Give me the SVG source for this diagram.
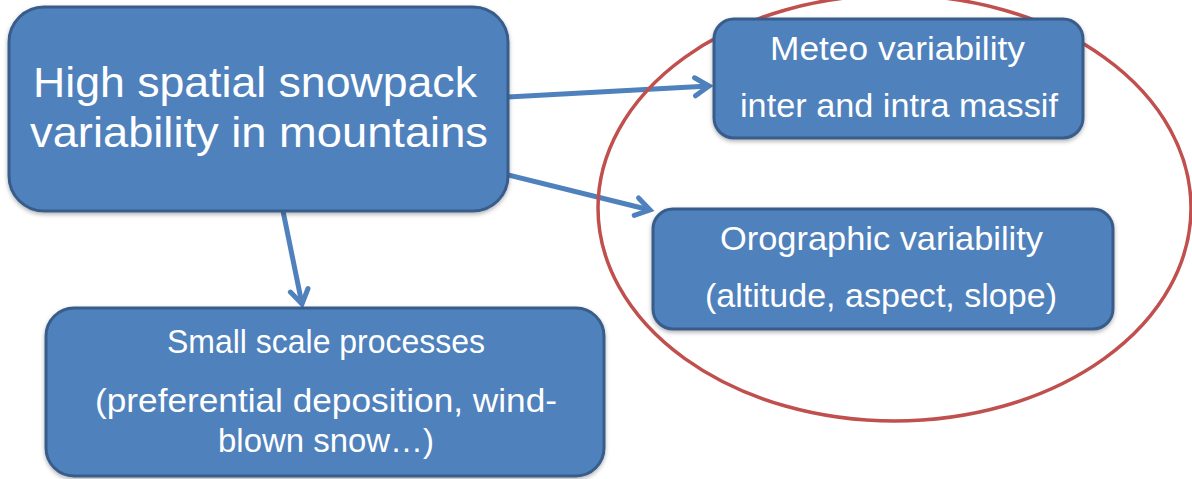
<svg xmlns="http://www.w3.org/2000/svg" width="1192" height="479" viewBox="0 0 1192 479">
  <style>
    .box { fill: #4f81bd; stroke: #385d8a; stroke-width: 3; filter: url(#sh); }
    .t { fill: #ffffff; font-family: "Liberation Sans", Arial, sans-serif; text-anchor: middle; }
    .big { font-size: 43px; }
    .sm { font-size: 34px; }
    .conn { stroke: #4f81bd; stroke-width: 5; fill: none; marker-end: url(#arr); }
  </style>
  <defs>
    <filter id="sh" x="-10%" y="-10%" width="120%" height="130%">
      <feDropShadow dx="0" dy="2" stdDeviation="2" flood-color="#000" flood-opacity="0.3"/>
    </filter>
    <marker id="arr" viewBox="0 0 24 24" markerWidth="24" markerHeight="24" refX="19" refY="12" orient="auto" markerUnits="userSpaceOnUse">
      <path d="M5,3 L19,12 L5,21" fill="none" stroke="#4f81bd" stroke-width="5" stroke-linecap="round" stroke-linejoin="miter"/>
    </marker>
  </defs>
  <rect width="1192" height="479" fill="#ffffff"/>

  <g id="connectors">
    <line class="conn" x1="508" y1="97" x2="709" y2="86"/>
    <line class="conn" x1="508" y1="175" x2="650" y2="210"/>
    <line class="conn" x1="283" y1="211" x2="302" y2="304"/>
  </g>

  <ellipse id="highlight" cx="894.5" cy="208" rx="296.5" ry="213" fill="none" stroke="#c0504d" stroke-width="3.5"/>

  <g id="main">
    <rect class="box" x="9" y="7" width="499" height="204" rx="35" ry="35"/>
    <text class="t big" x="255" y="97" textLength="444" lengthAdjust="spacingAndGlyphs">High spatial snowpack</text>
    <text class="t big" x="259" y="147" textLength="458" lengthAdjust="spacingAndGlyphs">variability in mountains</text>
  </g>

  <g id="meteo">
    <rect class="box" x="714" y="19" width="369" height="119" rx="20" ry="20"/>
    <text class="t sm" x="897.5" y="60" textLength="255" lengthAdjust="spacingAndGlyphs">Meteo variability</text>
    <text class="t sm" x="899" y="117" textLength="318" lengthAdjust="spacingAndGlyphs">inter and intra massif</text>
  </g>

  <g id="orographic">
    <rect class="box" x="653" y="209" width="460" height="120" rx="20" ry="20"/>
    <text class="t sm" x="881.5" y="250" textLength="323" lengthAdjust="spacingAndGlyphs">Orographic variability</text>
    <text class="t sm" x="881" y="307" textLength="352" lengthAdjust="spacingAndGlyphs">(altitude, aspect, slope)</text>
  </g>

  <g id="smallscale">
    <rect class="box" x="46" y="308" width="558" height="168" rx="28" ry="28"/>
    <text class="t sm" x="326" y="353" textLength="318" lengthAdjust="spacingAndGlyphs">Small scale processes</text>
    <text class="t sm" x="326" y="412" textLength="462" lengthAdjust="spacingAndGlyphs">(preferential deposition, wind-</text>
    <text class="t sm" x="326" y="452" textLength="216" lengthAdjust="spacingAndGlyphs">blown snow…)</text>
  </g>
</svg>
